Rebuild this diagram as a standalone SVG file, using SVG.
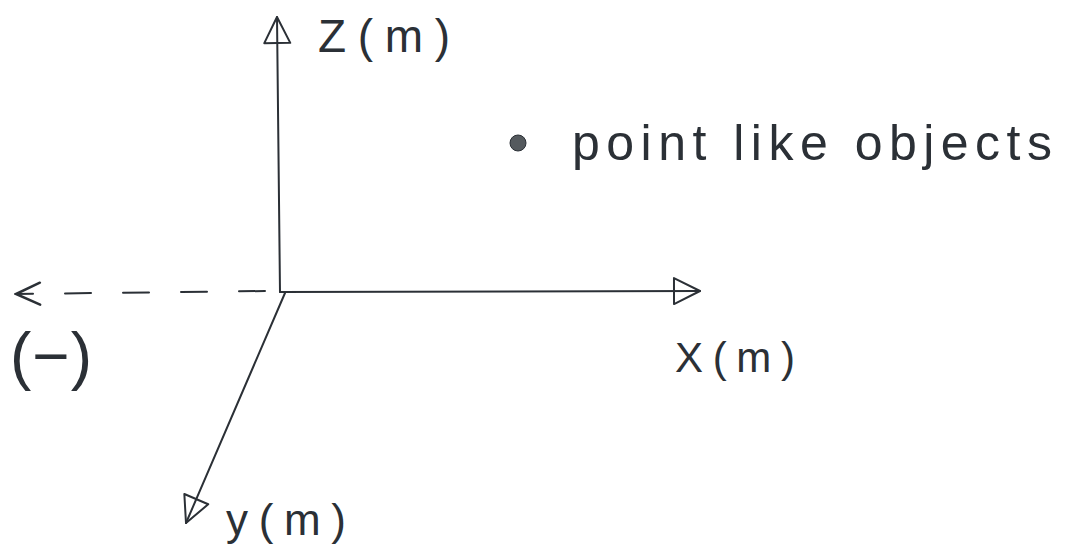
<svg xmlns="http://www.w3.org/2000/svg" width="1065" height="556" viewBox="0 0 1065 556">
<style>
.ax{stroke:#2b3036;stroke-width:2;fill:none;stroke-linecap:round}
.dash{stroke-dasharray:26 32}
.lbl{font-family:"Liberation Sans",Arial,sans-serif;fill:#2b3036}
</style>
<defs>
<marker id="tri" viewBox="0 0 30 30" refX="28" refY="15" markerWidth="30" markerHeight="30" markerUnits="userSpaceOnUse" orient="auto">
<path d="M2,2 L28,15 L2,28 Z" fill="none" stroke="#2b3036" stroke-width="2" stroke-linejoin="round"/>
</marker>
<marker id="chev" viewBox="0 0 30 30" refX="28" refY="15" markerWidth="30" markerHeight="30" markerUnits="userSpaceOnUse" orient="auto">
<path d="M4,4 L28,15 L4,26" fill="none" stroke="#2b3036" stroke-width="2.5" stroke-linecap="round"/>
</marker>
</defs>
<rect width="1065" height="556" fill="#ffffff"/>
<g id="connectors">
<line id="z-axis" class="ax" x1="280" y1="292" x2="277" y2="17" marker-end="url(#tri)"/>
<line id="x-axis" class="ax" x1="280" y1="292" x2="700" y2="291" marker-end="url(#tri)"/>
<line id="y-axis" class="ax" x1="285" y1="293" x2="186" y2="523" marker-end="url(#tri)"/>
<line id="neg-x-axis" class="ax dash" x1="265" y1="291" x2="16" y2="294" marker-end="url(#chev)"/>
</g>
<g id="z-label"><text class="lbl" x="318" y="52" font-size="46" textLength="132" lengthAdjust="spacing">Z(m)</text></g>
<g id="x-label"><text class="lbl" x="675" y="372" font-size="42" textLength="120" lengthAdjust="spacing">X(m)</text></g>
<g id="y-label"><text class="lbl" x="226" y="535" font-size="44" textLength="120" lengthAdjust="spacing">y(m)</text></g>
<g id="neg-label"><text class="lbl" x="10" y="378" font-size="64" textLength="82" lengthAdjust="spacing">(−)</text></g>
<g id="point-objects">
<circle cx="518" cy="143" r="8" fill="#555a5e" stroke="#2b3036" stroke-width="1"/>
<text class="lbl" x="572" y="160" font-size="50" textLength="480" lengthAdjust="spacing">point like objects</text>
</g>
</svg>
